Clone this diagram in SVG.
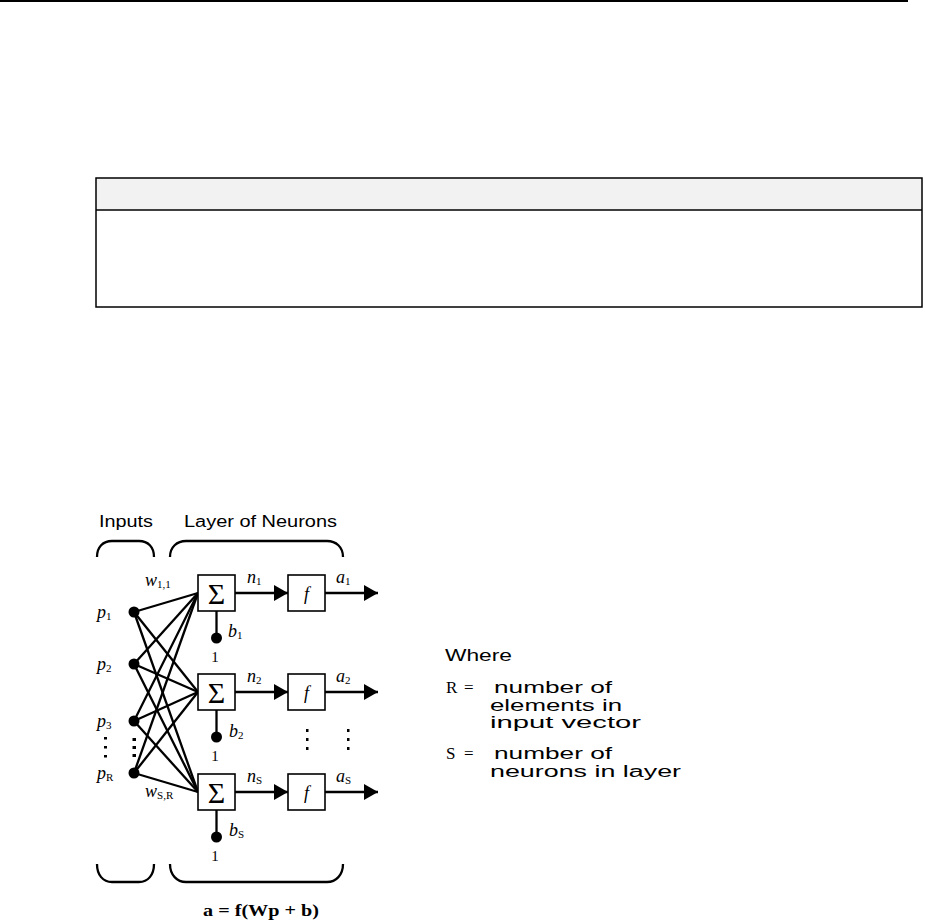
<svg xmlns="http://www.w3.org/2000/svg" width="925" height="920" viewBox="0 0 925 920">
<style>
.ln{stroke:#000;stroke-width:2.3;fill:none}
.bx{stroke:#000;stroke-width:1.6;fill:#fff}
.dot{fill:#000}
.hd{font-family:"Liberation Sans",Arial,sans-serif;font-size:16px;fill:#000}
.rt{font-family:"Liberation Sans",Arial,sans-serif;font-size:16px;fill:#000}
.rs{font-family:"Liberation Serif","Times New Roman",serif;font-size:17px;fill:#000}
.it{font-family:"Liberation Serif","Times New Roman",serif;font-style:italic;font-size:18px;fill:#000}
.sub{font-size:11px;font-style:normal}
.sig{font-family:"Liberation Serif","Times New Roman",serif;font-size:30px;fill:#000}
.one{font-family:"Liberation Serif","Times New Roman",serif;font-size:15px;fill:#000}
.eq{font-family:"Liberation Serif","Times New Roman",serif;font-weight:bold;font-size:17px;fill:#000}
</style>
<defs>
<marker id="arr" markerUnits="userSpaceOnUse" markerWidth="14" markerHeight="16" refX="14" refY="8" orient="auto"><path d="M0,0 L14,8 L0,16 Z" fill="#000"/></marker>
</defs>
<rect width="925" height="920" fill="#fff"/>
<g id="top-rule"><line x1="0" y1="1" x2="908" y2="1" stroke="#000" stroke-width="2"/></g>
<g id="table">
<rect x="96" y="178" width="826" height="32" fill="#f2f2f2"/>
<rect x="96" y="178" width="826" height="129" fill="none" stroke="#000" stroke-width="1.5"/>
<line x1="96" y1="210" x2="922" y2="210" stroke="#000" stroke-width="1.5"/>
</g>
<g id="headers">
<text class="hd" x="99" y="527" textLength="54" lengthAdjust="spacingAndGlyphs">Inputs</text>
<text class="hd" x="184" y="527" textLength="153" lengthAdjust="spacingAndGlyphs">Layer of Neurons</text>
<path class="ln" d="M97,557 C97,547 103,541 112,541 L139,541 C148,541 154,547 154,557"/>
<path class="ln" d="M170,557 C170,547 177,541 186,541 L327,541 C336,541 343,547 343,557"/>
<path class="ln" d="M97,864 C97,875 103,882 112,882 L139,882 C148,882 154,875 154,864"/>
<path class="ln" d="M170,864 C170,875 177,882 186,882 L327,882 C336,882 343,875 343,864"/>
</g>
<g id="connectors">
<line class="ln" x1="134" y1="612" x2="198" y2="593"/>
<line class="ln" x1="134" y1="612" x2="198" y2="692"/>
<line class="ln" x1="134" y1="612" x2="198" y2="792"/>
<line class="ln" x1="134" y1="664" x2="198" y2="593"/>
<line class="ln" x1="134" y1="664" x2="198" y2="692"/>
<line class="ln" x1="134" y1="664" x2="198" y2="792"/>
<line class="ln" x1="134" y1="721" x2="198" y2="593"/>
<line class="ln" x1="134" y1="721" x2="198" y2="692"/>
<line class="ln" x1="134" y1="721" x2="198" y2="792"/>
<line class="ln" x1="134" y1="773" x2="198" y2="593"/>
<line class="ln" x1="134" y1="773" x2="198" y2="692"/>
<line class="ln" x1="134" y1="773" x2="198" y2="792"/>
<line class="ln" x1="235" y1="593" x2="288" y2="593" marker-end="url(#arr)"/>
<line class="ln" x1="325" y1="593" x2="378" y2="593" marker-end="url(#arr)"/>
<line class="ln" x1="235" y1="692" x2="288" y2="692" marker-end="url(#arr)"/>
<line class="ln" x1="325" y1="692" x2="378" y2="692" marker-end="url(#arr)"/>
<line class="ln" x1="235" y1="792" x2="288" y2="792" marker-end="url(#arr)"/>
<line class="ln" x1="325" y1="792" x2="378" y2="792" marker-end="url(#arr)"/>
<line class="ln" x1="216.5" y1="611" x2="216.5" y2="637"/>
<line class="ln" x1="216.5" y1="710" x2="216.5" y2="736"/>
<line class="ln" x1="216.5" y1="810" x2="216.5" y2="836"/>
</g>
<g id="input-p1"><circle class="dot" cx="134" cy="612" r="5.5"/><text class="it" x="97" y="618">p<tspan class="sub" dy="2">1</tspan></text></g>
<g id="input-p2"><circle class="dot" cx="134" cy="664" r="5.5"/><text class="it" x="97" y="670">p<tspan class="sub" dy="2">2</tspan></text></g>
<g id="input-p3"><circle class="dot" cx="134" cy="721" r="5.5"/><text class="it" x="97" y="727">p<tspan class="sub" dy="2">3</tspan></text></g>
<g id="input-pR"><circle class="dot" cx="134" cy="773" r="5.5"/><text class="it" x="97" y="779">p<tspan class="sub" dy="2" font-style="italic">R</tspan></text></g>
<g id="input-ellipsis">
<rect x="104" y="737" width="3" height="2.5"/><rect x="104" y="746" width="3" height="2.5"/><rect x="104" y="755" width="3" height="2.5"/>
<rect x="132.5" y="738" width="3.5" height="3"/><rect x="132.5" y="746" width="3.5" height="3"/><rect x="132.5" y="754" width="3.5" height="3"/>
</g>
<g id="weights">
<text class="it" x="145" y="586">w<tspan class="sub" dy="2">1,1</tspan></text>
<text class="it" x="145" y="797">w<tspan class="sub" dy="2" font-style="italic">S,R</tspan></text>
</g>
<g id="neuron1">
<rect class="bx" x="198" y="575" width="37" height="36"/><text class="sig" x="216.5" y="604" text-anchor="middle">Σ</text>
<circle class="dot" cx="216.5" cy="638" r="5.5"/><text class="one" x="215" y="662" text-anchor="middle">1</text>
<text class="it" x="228" y="637">b<tspan class="sub" dy="2">1</tspan></text>
<text class="it" x="247" y="583">n<tspan class="sub" dy="2">1</tspan></text>
<rect class="bx" x="288" y="575" width="37" height="36"/><text class="it" x="306.5" y="600" text-anchor="middle">f</text>
<text class="it" x="336" y="583">a<tspan class="sub" dy="2">1</tspan></text>
</g>
<g id="neuron2">
<rect class="bx" x="198" y="674" width="37" height="36"/><text class="sig" x="216.5" y="703" text-anchor="middle">Σ</text>
<circle class="dot" cx="216.5" cy="737" r="5.5"/><text class="one" x="215" y="761" text-anchor="middle">1</text>
<text class="it" x="229" y="737">b<tspan class="sub" dy="2">2</tspan></text>
<text class="it" x="247" y="682">n<tspan class="sub" dy="2">2</tspan></text>
<rect class="bx" x="288" y="674" width="37" height="36"/><text class="it" x="306.5" y="699" text-anchor="middle">f</text>
<text class="it" x="336" y="682">a<tspan class="sub" dy="2">2</tspan></text>
</g>
<g id="layer-ellipsis">
<rect x="306" y="729" width="2.5" height="3"/><rect x="306" y="738" width="2.5" height="3"/><rect x="306" y="747" width="2.5" height="3"/>
<rect x="347" y="729" width="2.5" height="3"/><rect x="347" y="738" width="2.5" height="3"/><rect x="347" y="747" width="2.5" height="3"/>
</g>
<g id="neuronS">
<rect class="bx" x="198" y="774" width="37" height="36"/><text class="sig" x="216.5" y="803" text-anchor="middle">Σ</text>
<circle class="dot" cx="216.5" cy="837" r="5.5"/><text class="one" x="215" y="861" text-anchor="middle">1</text>
<text class="it" x="229" y="836">b<tspan class="sub" dy="2" font-style="italic">S</tspan></text>
<text class="it" x="247" y="782">n<tspan class="sub" dy="2" font-style="italic">S</tspan></text>
<rect class="bx" x="288" y="774" width="37" height="36"/><text class="it" x="306.5" y="799" text-anchor="middle">f</text>
<text class="it" x="336" y="782">a<tspan class="sub" dy="2" font-style="italic">S</tspan></text>
</g>
<g id="equation"><text class="eq" x="261" y="916" text-anchor="middle" textLength="116" lengthAdjust="spacingAndGlyphs">a = f(Wp + b)</text></g>
<g id="legend">
<text class="rt" x="445" y="661" textLength="67" lengthAdjust="spacingAndGlyphs">Where</text>
<text class="rs" x="446" y="693">R</text><text class="rs" x="464" y="693">=</text>
<text class="rt" x="494" y="693" textLength="118" lengthAdjust="spacingAndGlyphs">number of</text>
<text class="rt" x="490" y="710.5" textLength="132" lengthAdjust="spacingAndGlyphs">elements in</text>
<text class="rt" x="490" y="728" textLength="151" lengthAdjust="spacingAndGlyphs">input vector</text>
<text class="rs" x="446" y="759">S</text><text class="rs" x="464" y="759">=</text>
<text class="rt" x="494" y="759" textLength="118" lengthAdjust="spacingAndGlyphs">number of</text>
<text class="rt" x="490" y="776.5" textLength="191" lengthAdjust="spacingAndGlyphs">neurons in layer</text>
</g>
</svg>
